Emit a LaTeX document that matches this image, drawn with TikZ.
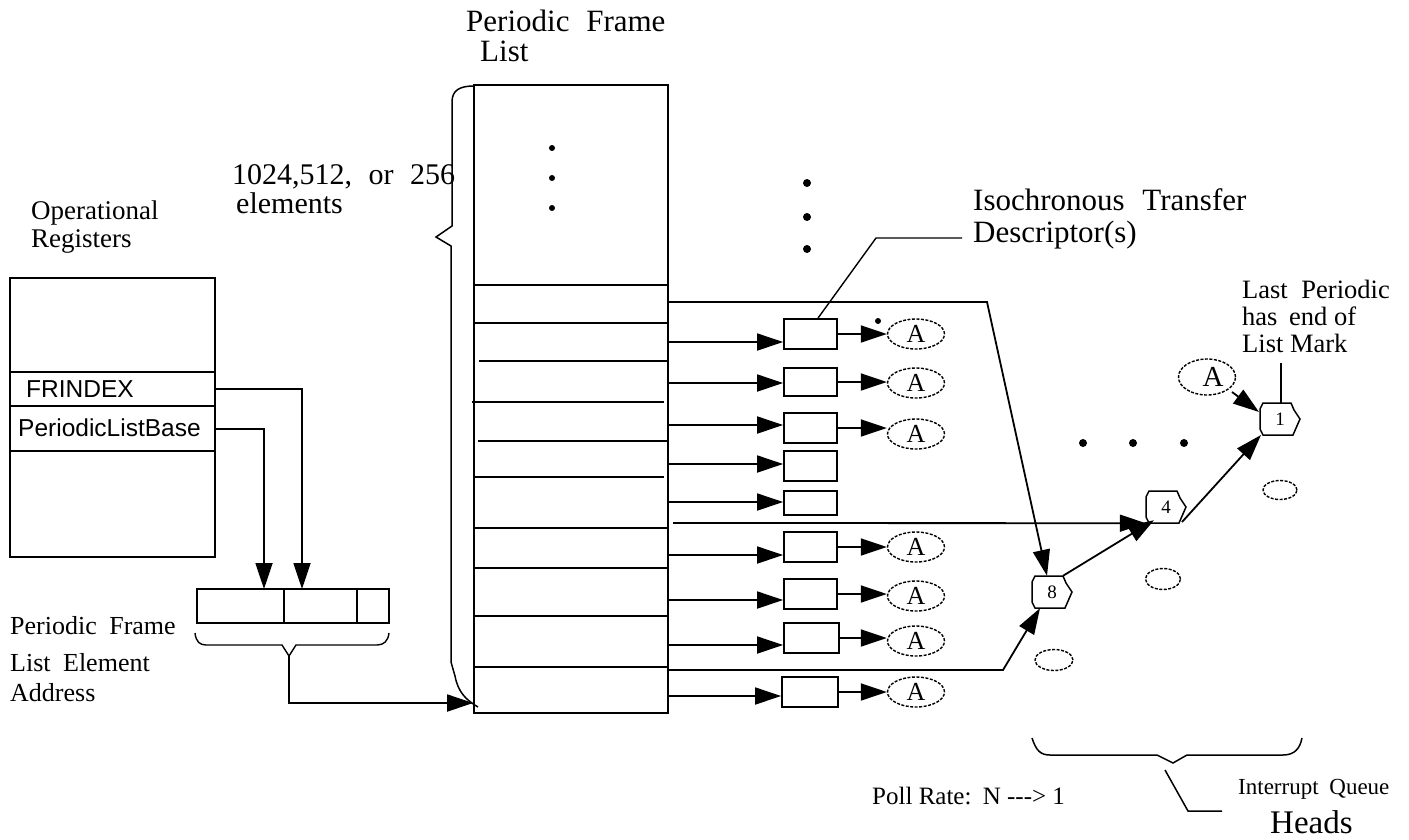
\documentclass[tikz,border=0pt]{standalone}
\usepackage{fontspec}
\setmainfont{Liberation Serif}
\newfontfamily\arialf{Liberation Sans}
\usetikzlibrary{arrows.meta,shapes.geometric}
\newcommand\qhead[4]{%
  \node[inner sep=0pt,minimum width=40pt,minimum height=32pt,font=\fontsize{19}{19}\selectfont] (#1) at (#2,#3) {#4};
  \draw[line width=1.5pt] ([shift={(-17,-16)}]#1.center) -- ([shift={(11,-16)}]#1.center) -- ([shift={(14,-9)}]#1.center) -- ([shift={(20,0)}]#1.center) -- ([shift={(13,16)}]#1.center) -- ([shift={(-17,16)}]#1.center) -- ([shift={(-20,10)}]#1.center) -- ([shift={(-20,-10)}]#1.center) -- cycle;}
\begin{document}
\begin{tikzpicture}[x=1pt,y=-1pt,
  ln/.style={line width=1.8pt},
  arr/.style={ln,-{Triangle[length=26pt,width=17pt]}},
  tdbox/.style={draw,line width=1.8pt,minimum width=53pt,minimum height=30pt,inner sep=0pt},
  aell/.style={ellipse,draw,dash pattern=on 3pt off 1.5pt,line width=1.4pt,minimum width=57pt,minimum height=30pt,inner sep=0pt,font=\fontsize{26}{26}\selectfont},
  eell/.style={ellipse,draw,dash pattern=on 3pt off 1.5pt,line width=1.4pt,inner sep=0pt},
  lbl/.style={inner sep=0pt,anchor=base west},
  dot/.style={circle,fill,inner sep=0pt,minimum size=7pt},
]
\useasboundingbox[fill=white] (0,0) rectangle (1409,839);

% ---------- labels ----------
\node[lbl,font=\fontsize{31}{31}\selectfont] (pfl1) at (466,31) {Periodic\hspace{9pt} Frame};
\node[lbl,font=\fontsize{31}{31}\selectfont] (pfl2) at (480,61) {List};
\node[lbl,font=\fontsize{30}{30}\selectfont] (el1) at (232,184) {1024,512,\hspace{9pt} or\hspace{9pt} 256};
\node[lbl,font=\fontsize{30}{30}\selectfont] (el2) at (236,213) {elements};
\node[lbl,font=\fontsize{27}{27}\selectfont] (or1) at (31,219) {Operational};
\node[lbl,font=\fontsize{27}{27}\selectfont] (or2) at (31,247) {Registers};

% ---------- operational registers ----------
\node[draw,ln,minimum width=205pt,minimum height=279pt,inner sep=0pt] (reg) at (112.5,417.5) {};
\draw[ln] (10,372) -- (215,372);
\draw[ln] (10,406) -- (215,406);
\draw[ln] (10,451) -- (215,451);
\node[lbl,font=\arialf\fontsize{24.5}{24.5}\selectfont] (frindex) at (26,397) {FRINDEX};
\node[lbl,font=\arialf\fontsize{24.5}{24.5}\selectfont] (plb) at (18,436) {PeriodicListBase};
\coordinate (frix) at (215,389);
\coordinate (plbx) at (215,429);

% ---------- address ----------
\node[draw,ln,minimum width=192pt,minimum height=34pt,inner sep=0pt] (addr) at (293,606) {};
\draw[ln] (284,589) -- (284,623);
\draw[ln] (357,589) -- (357,623);
\draw[arr] (frix) -- (302,389) -- (302,589);
\draw[arr] (plbx) -- (264,389 |- plbx) -- (264,589);
\draw[line width=1.4pt] (195,633) .. controls (196,642) and (200,645) .. (206,645) -- (282,645) -- (289,656) -- (296,645) -- (377,645) .. controls (384,645) and (388,641) .. (389,633);
\coordinate (abr) at (289,656);
\node[lbl,font=\fontsize{26}{26}\selectfont] (pa1) at (10,634) {Periodic\hspace{6pt} Frame};
\node[lbl,font=\fontsize{26}{26}\selectfont] (pa2) at (10,671) {List\hspace{6pt} Element};
\node[lbl,font=\fontsize{26}{26}\selectfont] (pa3) at (10,701) {Address};

% ---------- periodic frame list ----------
\node[draw,ln,minimum width=194pt,minimum height=628pt,inner sep=0pt] (fl) at (571,399) {};
\foreach \y in {148,178,208} \node[dot,minimum size=6pt] at (552,\y) {};
\draw[ln] (474,285) -- (668,285);
\draw[ln] (474,323) -- (668,323);
\draw[ln] (479,361) -- (668,361);
\draw[ln] (472,402) -- (664,402);
\draw[ln] (478,441) -- (668,441);
\draw[ln] (474,477) -- (664,477);
\draw[ln] (474,528) -- (668,528);
\draw[ln] (474,568) -- (668,568);
\draw[ln] (474,616) -- (668,616);
\draw[ln] (474,667) -- (668,667);
\draw[line width=1.5pt] (474,86) .. controls (460,86) and (452,90) .. (452,102) -- (452,226) -- (436,237) -- (451,246) -- (451,662) -- (455,676) .. controls (458,692) and (466,700) .. (478,707);
\draw[arr] (abr) -- (289,703) -- (fl.west |- 0,703);

% ---------- isochronous TDs ----------
\node[tdbox] (td1) at (810.5,334) {};
\node[tdbox,minimum height=28pt] (td2) at (810.5,382) {};
\node[tdbox] (td3) at (810.5,428) {};
\node[tdbox] (td4) at (810.5,466) {};
\node[tdbox,minimum height=24pt] (td5) at (810.5,503) {};
\node[tdbox] (td6) at (810.5,547) {};
\node[tdbox] (td7) at (810.5,594) {};
\node[tdbox,minimum width=55pt] (td8) at (811.5,638) {};
\node[tdbox,minimum width=56pt] (td9) at (810,692) {};
\foreach \i/\y in {1/342,2/383,3/425,4/464,5/502,6/555,7/600,8/645,9/696}{
  \coordinate (s\i) at (668,\y);
  \draw[arr] (s\i) -- (s\i -| td\i.west);
}
\node[aell] (a1) at (916,334) {A};
\node[aell] (a2) at (916,383) {A};
\node[aell] (a3) at (916,434) {A};
\node[aell] (a6) at (916,547) {A};
\node[aell] (a7) at (916,596) {A};
\node[aell] (a8) at (916,641) {A};
\node[aell] (a9) at (916,692) {A};
\foreach \i in {1,2,3,6,7,8,9}{
  \draw[arr] (td\i.east) -- (td\i.east -| a\i.west);
}
\node[dot,minimum size=6pt] (sd) at (878,321) {};
\foreach \y in {183,217,249} \node[dot,minimum size=8pt] at (807,\y) {};
\node[lbl,font=\fontsize{31}{31}\selectfont] (itd1) at (973,210) {Isochronous\hspace{10pt} Transfer};
\node[lbl,font=\fontsize{31}{31}\selectfont] (itd2) at (973,242) {Descriptor(s)};
\coordinate (itdl) at (962,238);
\draw[line width=1.4pt] (itdl) -- (876,238) -- (td1.north -| 818,0);

% ---------- interrupt queue heads ----------
\qhead{n8}{1052}{592}{8}
\qhead{n4}{1166}{507}{4}
\qhead{n1}{1280}{419}{1}
\coordinate (t8) at (668,302);
\draw[arr] (t8) -- (987,302) -- ([xshift=-5pt]n8.north);
\coordinate (b8) at (668,670);
\draw[arr] (b8) -- (1003,670) -- ([xshift=-12pt]n8.south);
\coordinate (h4) at (673,523);
\draw[arr] (h4) -- (n4.south west);
\draw[arr] ([xshift=11pt]n8.north) -- ([xshift=-12pt,yshift=3pt]n4.south);
\draw[arr] ([xshift=16pt,yshift=-15pt]n4.center) -- ([xshift=-19pt,yshift=-16pt]n1.center);
\node[eell,minimum width=57pt,minimum height=36pt,font=\fontsize{29}{29}\selectfont] (atop) at (1207,377) {\hspace{12pt}A};
\draw[arr] (1232,392) -- ([xshift=-21pt,yshift=7pt]n1.center);
\coordinate (lpl) at (1281,363);
\draw[line width=1.5pt] (lpl) -- (lpl |- n1.north);
\node[lbl,font=\fontsize{26.5}{26.5}\selectfont] (lp1) at (1242,298) {Last\hspace{7pt} Periodic};
\node[lbl,font=\fontsize{26.5}{26.5}\selectfont] (lp2) at (1242,325) {has\hspace{5pt} end of};
\node[lbl,font=\fontsize{26.5}{26.5}\selectfont] (lp3) at (1242,352) {List Mark};
\foreach \x in {1083,1133,1184} \node[dot,minimum size=8pt] at (\x,443) {};
\node[eell,minimum width=34pt,minimum height=19pt] (e1) at (1280,490) {};
\node[eell,minimum width=35pt,minimum height=21pt] (e2) at (1163,579) {};
\node[eell,minimum width=38pt,minimum height=21pt] (e3) at (1054,660) {};

\draw[line width=1.5pt] (1032,738) .. controls (1036,750) and (1040,755) .. (1050,755) -- (1157,755) -- (1173,763) -- (1187,755) -- (1283,755) .. controls (1295,755) and (1300,748) .. (1302,738);
\coordinate (qb) at (1165,770);
\coordinate (qe) at (1222,811);
\draw[line width=1.5pt] (qb) -- (1188,811) -- (qe);
\node[lbl,font=\fontsize{25}{25}\selectfont] (poll) at (872,804) {Poll Rate:\hspace{3pt} N -{}-{}-> 1};
\node[lbl,font=\fontsize{23}{23}\selectfont] (iq1) at (1238,794) {Interrupt\hspace{5pt} Queue};
\node[lbl,font=\fontsize{33}{33}\selectfont] (iq2) at (1270,833) {Heads};
\end{tikzpicture}
\end{document}
